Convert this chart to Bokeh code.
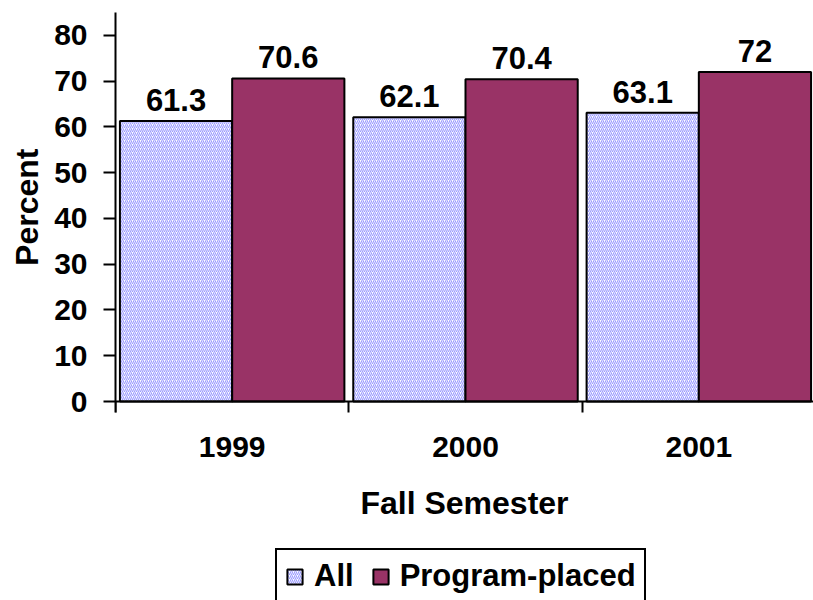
from bokeh.plotting import figure
from bokeh.models import Range1d, FixedTicker, ColumnDataSource, Legend, LegendItem, Title
from bokeh.embed import file_html
from bokeh.resources import INLINE
from bokeh.core.properties import value

years = ["1999", "2000", "2001"]
all_pct = [61.3, 62.1, 63.1]
program_pct = [70.6, 70.4, 72.0]
all_labels = ["61.3", "62.1", "63.1"]
program_labels = ["70.6", "70.4", "72"]
y_ticks = [0, 10, 20, 30, 40, 50, 60, 70, 80]

FONT = "Liberation Sans"
TICK_FS = "30px"
DATA_FS = "31px"
TITLE_FS = "32px"
LEG_FS = "31px"
BAR_W = 0.481
OFF_ALL = 0.2595
OFF_PRG = 0.7405

W, H = 813, 600
LEFT, TOP = 113, 12
PX_PER_CAT = 234.0
AXIS_Y_PX = 401          # pixel row of the zero line
Y_MAX = 85
px_per_unit = (AXIS_Y_PX - TOP) / Y_MAX
y_min = -(H - AXIS_Y_PX) / px_per_unit

idx = list(range(len(years)))
src = ColumnDataSource(dict(
    x_all=[i + OFF_ALL for i in idx],
    x_prg=[i + OFF_PRG for i in idx],
    all_pct=all_pct,
    program_pct=program_pct,
    all_labels=all_labels,
    program_labels=program_labels,
))

p = figure(width=W, height=H, output_backend="svg", toolbar_location=None,
           x_range=Range1d(0, (W - LEFT) / PX_PER_CAT), y_range=Range1d(y_min, Y_MAX),
           min_border_top=TOP, min_border_right=0, min_border_left=LEFT, min_border_bottom=0)
p.outline_line_color = None
p.xgrid.visible = False
p.ygrid.visible = False

r_all = p.vbar(x="x_all", top="all_pct", bottom=0, width=BAR_W, source=src,
               fill_color="white", line_color="black", line_width=2,
               hatch_pattern="right_diagonal_line", hatch_color="#9b9bff",
               hatch_scale=4, hatch_weight=1.1)
r_prg = p.vbar(x="x_prg", top="program_pct", bottom=0, width=BAR_W, source=src,
               fill_color="#993366", line_color="black", line_width=2)

for xcol, ycol, tcol in [("x_all", "all_pct", "all_labels"), ("x_prg", "program_pct", "program_labels")]:
    p.text(x=xcol, y=ycol, text=tcol, source=src, text_align="center",
           text_baseline="alphabetic", y_offset=-21,
           text_font=value(FONT), text_font_style="bold", text_font_size=DATA_FS,
           text_color="black")

# y axis
ya = p.yaxis[0]
ya.ticker = FixedTicker(ticks=y_ticks)
ya.bounds = (-11 / px_per_unit, Y_MAX)
ya.major_label_text_font = FONT
ya.major_label_text_font_style = "bold"
ya.major_label_text_font_size = TICK_FS
ya.major_label_text_color = "black"
ya.major_label_standoff = 16
ya.major_tick_in = 0
ya.major_tick_out = 12
ya.major_tick_line_width = 2
ya.major_tick_line_color = "black"
ya.minor_tick_line_color = None
ya.axis_line_width = 2
ya.axis_line_color = "black"

# y axis title, placed along the upper (plotting) part only
p.add_layout(Title(text="Percent", align="right", offset=136, standoff=13,
                   text_font=FONT, text_font_style="bold", text_font_size=TITLE_FS,
                   text_color="black"), "left")

# x axis, pinned at y = 0
xa = p.xaxis[0]
xa.fixed_location = 0
xa.ticker = FixedTicker(ticks=[i + 0.5 for i in idx], minor_ticks=[0, 1, 2, 3])
xa.major_label_overrides = {i + 0.5: y for i, y in zip(idx, years)}
xa.major_tick_line_color = None
xa.minor_tick_in = 0
xa.minor_tick_out = 11
xa.minor_tick_line_width = 2
xa.minor_tick_line_color = "black"
xa.axis_line_width = 2
xa.axis_line_color = "black"
xa.axis_label = "Fall Semester"
xa.axis_label_text_font = FONT
xa.axis_label_text_font_style = "bold"
xa.axis_label_text_font_size = TITLE_FS
xa.axis_label_text_color = "black"
xa.axis_label_standoff = 25
xa.major_label_text_font = FONT
xa.major_label_text_font_style = "bold"
xa.major_label_text_font_size = TICK_FS
xa.major_label_text_color = "black"
xa.major_label_standoff = 24

legend = Legend(items=[LegendItem(label="All", renderers=[r_all]),
                       LegendItem(label="Program-placed", renderers=[r_prg])],
                orientation="horizontal", location=(276 - LEFT - 3, -4),
                border_line_color="black", border_line_width=2, border_line_alpha=1,
                background_fill_color="white", background_fill_alpha=1,
                label_text_font=FONT, label_text_font_style="bold",
                label_text_font_size=LEG_FS, label_text_color="black",
                glyph_width=19, glyph_height=19, label_standoff=10,
                spacing=17, padding=8, margin=0)
p.add_layout(legend, "center")

open("out.html", "w").write(file_html(p, INLINE))
